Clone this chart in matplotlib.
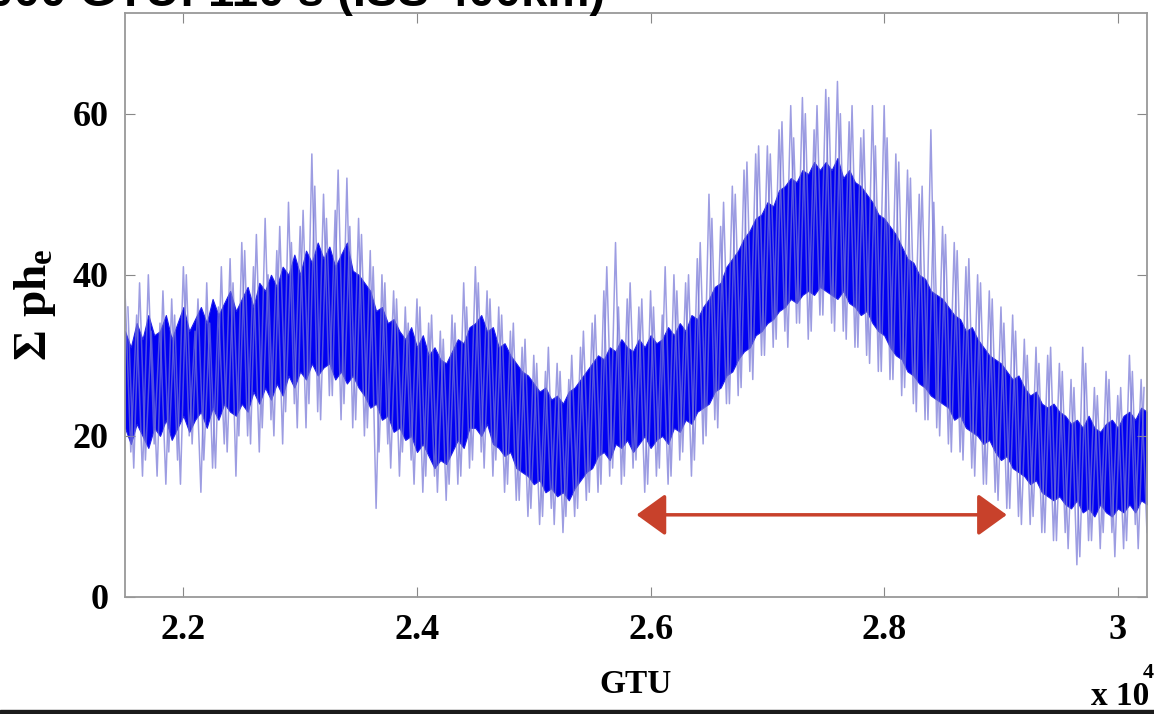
#!/usr/bin/env python3
# -*- coding: utf-8 -*-
"""
Sum of photo-electrons vs GTU, noisy background track
"""

import numpy as np
import matplotlib.pyplot as plt
from matplotlib.patches import Rectangle

# envelope of the dense core, one value every 50 GTU
gtu_core = np.arange(21500, 30251, 50)
core_hi = [33, 31, 34, 32, 35, 32.5, 33, 35, 32, 34, 36, 33, 34.5, 36, 34, 37, 35, 36.5, 38, 35.5,
           37, 38.5, 36, 39, 38, 40, 38.5, 41, 40, 42.5, 40, 43, 41.5, 44, 42, 43.5, 41, 42.5, 44, 40.5,
           40, 39, 38, 35.5, 36, 34, 34.5, 33, 32, 33.5, 31, 32.5, 30, 31, 29.5, 29, 30.5, 32, 31.5, 33.5,
           34, 35, 33, 33.5, 31, 31.5, 30, 29, 28, 27.5, 26.5, 25.5, 26, 24.5, 25, 24, 25.5, 26, 27, 28,
           29, 30, 29.5, 31, 30.5, 32, 31, 30.5, 32, 31, 32.5, 31.5, 32, 33.5, 32.5, 34, 33, 35, 34.5, 36,
           37, 38.5, 39, 41, 42, 43, 44.5, 45.5, 47, 47.5, 49, 48.5, 50.5, 51, 52, 51.5, 53, 52.5, 54, 53,
           54, 53, 54.5, 52, 53, 51.5, 51, 50, 49, 47.5, 47, 46, 45, 43.5, 42, 41.5, 40, 39.5, 38, 37.5,
           37, 36, 35, 34.5, 33, 33.5, 32, 31, 30, 29.5, 29, 28, 27, 27.5, 26, 25, 25.5, 24, 23.5, 24,
           23, 22.5, 21.5, 22, 21, 22.5, 21, 20.5, 21.5, 22, 21, 22.5, 23, 22, 23.5, 23]
core_lo = [21, 19, 21.5, 20, 18.5, 21, 20, 22, 19.5, 21, 22.5, 20.5, 22, 23, 21, 23.5, 22, 24, 23, 22.5,
           24, 23, 25.5, 24, 26, 24.5, 26.5, 25, 27.5, 26, 28, 27, 29, 27.5, 28.5, 29, 27, 28, 26.5, 27.5,
           26, 25, 23.5, 24, 22, 22.5, 20.5, 21, 19.5, 20, 18, 19, 17.5, 16, 17, 16.5, 18, 19.5, 18.5, 21,
           21, 20, 21.5, 19, 18.5, 17.5, 18, 16, 15.5, 15, 14, 14.5, 13, 13.5, 12.5, 13, 12, 13.5, 14.5, 15.5,
           16, 17.5, 18, 17, 19, 18.5, 19.5, 18, 19, 20, 18.5, 19.5, 20, 19, 21, 20.5, 22, 21.5, 23, 23.5,
           24, 25.5, 26, 27.5, 28, 29.5, 30.5, 31, 32.5, 33, 34, 34.5, 35.5, 36, 37, 36.5, 37.5, 38, 37.5, 38.5,
           38, 37.5, 37, 38, 36.5, 36, 35, 35.5, 34, 33, 32.5, 31, 30, 29.5, 28, 27.5, 26.5, 26, 25, 24.5,
           24, 23.5, 22, 22.5, 21, 20.5, 20, 19, 19.5, 18, 17, 17.5, 16, 15.5, 15, 14, 14.5, 13, 12.5, 12,
           12.5, 11.5, 11, 12, 10.5, 11, 10, 11.5, 10.5, 10, 11, 10.5, 11.5, 10.5, 12, 11.5]

# thin spikes, one value every 50 GTU (alternating high / low)
gtu_spk = np.arange(21500, 30251, 50)
phe_spk = [38, 18, 35, 15, 40, 19, 34, 14, 37, 17, 41, 20, 33, 13, 39, 16, 36, 19, 42, 15,
           44, 20, 41, 18, 47, 22, 43, 19, 49, 24, 46, 21, 55, 23, 50, 25, 48, 22, 52, 21,
           47, 20, 43, 11, 40, 19, 38, 15, 36, 17, 37, 13, 34, 15, 33, 12, 35, 14, 39, 16,
           41, 18, 38, 15, 36, 13, 33, 12, 31, 10, 30, 9, 28, 11, 29, 8, 27, 10, 31, 12,
           34, 13, 38, 15, 44, 14, 37, 16, 36, 13, 38, 15, 35, 14, 40, 17, 39, 15, 42, 19,
           50, 22, 46, 24, 51, 25, 53, 28, 55, 30, 56, 31, 58, 33, 61, 34, 62, 32, 58, 35,
           63, 34, 64, 33, 59, 31, 57, 30, 61, 28, 61, 27, 55, 25, 53, 24, 50, 22, 58, 21,
           46, 19, 44, 18, 41, 16, 40, 14, 38, 13, 36, 11, 35, 10, 32, 9, 31, 8, 30, 7,
           29, 8, 27, 4, 31, 7, 26, 6, 28, 8, 25, 6, 30, 9, 27, 8]

# second set of spikes, shifted by 25 GTU
gtu_spk2 = np.arange(21525, 30226, 50)
phe_spk2 = [36, 16, 39, 17, 33, 15, 38, 18, 35, 14, 40, 19, 37, 17, 34, 16, 41, 18, 39, 20,
            43, 19, 45, 21, 40, 20, 46, 23, 44, 21, 48, 24, 51, 22, 47, 25, 53, 24, 46, 22,
            45, 21, 41, 18, 39, 16, 37, 18, 34, 14, 36, 15, 35, 13, 32, 14, 34, 15, 36, 17,
            39, 16, 37, 17, 35, 14, 34, 12, 32, 11, 29, 10, 31, 9, 28, 10, 30, 11, 33, 13,
            35, 14, 41, 16, 36, 15, 39, 17, 37, 14, 36, 16, 41, 15, 38, 18, 40, 17, 44, 20,
            47, 21, 49, 24, 50, 26, 54, 27, 56, 30, 55, 32, 59, 31, 57, 34, 60, 33, 61, 35,
            62, 33, 60, 32, 61, 31, 58, 29, 56, 28, 57, 27, 54, 26, 52, 23, 51, 22, 49, 20,
            45, 18, 43, 17, 42, 15, 39, 14, 37, 12, 34, 11, 33, 9, 30, 10, 29, 8, 31, 7,
            28, 6, 26, 5, 29, 7, 25, 8, 27, 5, 26, 7, 28, 6, 26]

arrow_gtu = [25880, 29050]
arrow_phe = 10.2


def plotTrack():

    plt.rcParams['font.family'] = ['Liberation Serif', 'DejaVu Serif']
    plt.rcParams['font.weight'] = 'bold'
    plt.rcParams['mathtext.fontset'] = 'custom'
    plt.rcParams['mathtext.rm'] = 'Liberation Serif:bold'
    plt.rcParams['mathtext.bf'] = 'Liberation Serif:bold'
    plt.rcParams['mathtext.it'] = 'Liberation Serif:bold'

    fig = plt.figure(figsize=(11.54, 7.14), dpi=100)
    ax = fig.add_axes([0.1083, 0.1639, 0.8856, 0.8179])

    ax.plot(gtu_spk, phe_spk, color='#7474d6', alpha=0.7, lw=1.1)
    ax.plot(gtu_spk2, phe_spk2, color='#7474d6', alpha=0.7, lw=1.1)
    ax.fill_between(gtu_core, core_lo, core_hi, color='#0000f2', lw=0.8,
                    edgecolor='#2020e8')

    ax.annotate('', xy=(arrow_gtu[0], arrow_phe), xytext=(arrow_gtu[1], arrow_phe),
                arrowprops=dict(arrowstyle='<|-|>,head_length=18,head_width=13',
                                mutation_scale=1, color='#c8412b', lw=2.5,
                                shrinkA=0, shrinkB=0))

    ax.set_xlim(21500, 30250)
    ax.set_ylim(0, 72.5)
    ax.set_xticks([22000, 24000, 26000, 28000, 30000])
    ax.set_xticklabels(['2.2', '2.4', '2.6', '2.8', '3'])
    ax.set_yticks([0, 20, 40, 60])
    ax.tick_params(direction='in', top=True, right=True, length=7,
                   color='#888888', labelsize=26, pad=12)
    for s in ax.spines.values():
        s.set_color('#999999')
        s.set_linewidth(1.3)

    ax.set_xlabel('GTU', fontsize=24, fontweight='bold', labelpad=16)
    ax.set_ylabel(r'$\Sigma\ \mathrm{ph}_\mathrm{e}$', fontsize=34, labelpad=10)
    fig.text(0.945, 0.012, 'x 10', fontsize=24, fontweight='bold')
    fig.text(0.990, 0.05, '4', fontsize=16, fontweight='bold')

    fig.text(0.524, 0.991, '5000 GTU: 110 s (ISS 400km)', ha='right',
             va='baseline', fontsize=34, fontweight='bold',
             family=['Liberation Sans', 'DejaVu Sans'])
    fig.add_artist(Rectangle((0, 0), 1, 4 / 714, color='#1c1c1c',
                             transform=fig.transFigure))

    plt.savefig('out.png', dpi=100)
    return


def main():
    plotTrack()
    return


if __name__ == '__main__':
    main()
